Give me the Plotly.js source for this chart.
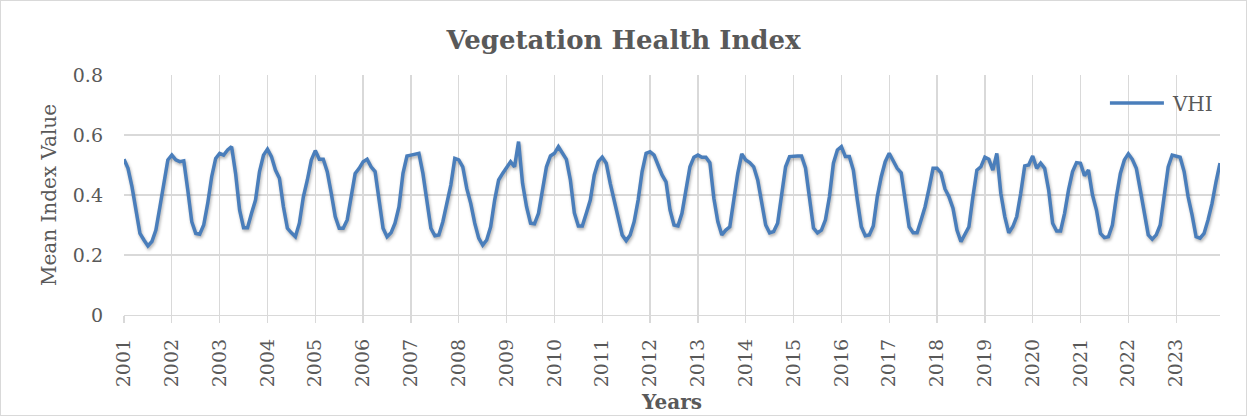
<!DOCTYPE html>
<html>
<head>
<meta charset="utf-8">
<script src="https://cdn.plot.ly/plotly-3.0.1.min.js"></script>
<style>
html,body{margin:0;padding:0;background:#fff;}
#wrap{position:relative;width:1247px;height:416px;}
#chart{width:1247px;height:416px;}
#frame{position:absolute;left:0;top:0;width:1247px;height:416px;box-sizing:border-box;border:1px solid #d9d9d9;pointer-events:none;}
#chart .scatterlayer .js-line{filter:drop-shadow(1px 2px 1.5px rgba(0,0,0,0.30));}
</style>
</head>
<body>
<div id="wrap"><div id="chart"></div><div id="frame"></div></div>
<script>
const years = ['2001','2002','2003','2004','2005','2006','2007','2008','2009','2010','2011','2012',
               '2013','2014','2015','2016','2017','2018','2019','2020','2021','2022','2023'];

// Monthly mean VHI values (Jan..Dec) per year
const vhi2001 = [0.519,0.489,0.428,0.350,0.272,0.250,0.230,0.245,0.283,0.360,0.444,0.517];
const vhi2002 = [0.533,0.517,0.511,0.514,0.417,0.311,0.272,0.269,0.300,0.372,0.461,0.522];
const vhi2003 = [0.539,0.533,0.550,0.561,0.472,0.350,0.291,0.291,0.339,0.383,0.478,0.533];
const vhi2004 = [0.553,0.528,0.483,0.456,0.361,0.289,0.274,0.261,0.306,0.394,0.450,0.517];
const vhi2005 = [0.548,0.519,0.519,0.478,0.406,0.328,0.289,0.289,0.317,0.394,0.472,0.489];
const vhi2006 = [0.511,0.519,0.494,0.478,0.383,0.289,0.261,0.274,0.306,0.361,0.472,0.530];
const vhi2007 = [0.533,0.535,0.539,0.472,0.372,0.289,0.264,0.267,0.311,0.367,0.433,0.522];
const vhi2008 = [0.517,0.494,0.422,0.372,0.306,0.256,0.233,0.250,0.294,0.383,0.450,0.472];
const vhi2009 = [0.494,0.511,0.494,0.578,0.439,0.361,0.306,0.304,0.339,0.422,0.494,0.530];
const vhi2010 = [0.539,0.561,0.539,0.519,0.450,0.340,0.297,0.297,0.339,0.383,0.467,0.511];
const vhi2011 = [0.526,0.506,0.439,0.383,0.317,0.267,0.248,0.267,0.311,0.383,0.478,0.539];
const vhi2012 = [0.544,0.533,0.500,0.467,0.444,0.350,0.300,0.297,0.339,0.417,0.494,0.526];
const vhi2013 = [0.533,0.526,0.526,0.508,0.389,0.311,0.267,0.283,0.294,0.383,0.472,0.537];
const vhi2014 = [0.517,0.508,0.494,0.450,0.378,0.300,0.274,0.278,0.306,0.394,0.494,0.528];
const vhi2015 = [0.530,0.530,0.530,0.490,0.390,0.290,0.274,0.283,0.317,0.394,0.506,0.550];
const vhi2016 = [0.561,0.528,0.528,0.483,0.383,0.294,0.264,0.267,0.297,0.394,0.461,0.511];
const vhi2017 = [0.539,0.511,0.489,0.474,0.383,0.294,0.274,0.274,0.317,0.361,0.422,0.489];
const vhi2018 = [0.489,0.474,0.420,0.394,0.356,0.283,0.244,0.267,0.294,0.394,0.483,0.494];
const vhi2019 = [0.526,0.519,0.483,0.539,0.406,0.328,0.274,0.294,0.328,0.406,0.497,0.500];
const vhi2020 = [0.530,0.489,0.506,0.489,0.417,0.306,0.280,0.280,0.339,0.417,0.478,0.508];
const vhi2021 = [0.506,0.464,0.483,0.400,0.350,0.272,0.258,0.261,0.300,0.394,0.472,0.517];
const vhi2022 = [0.537,0.519,0.489,0.417,0.344,0.267,0.253,0.267,0.300,0.394,0.494,0.533];
const vhi2023 = [0.530,0.526,0.478,0.394,0.333,0.261,0.256,0.272,0.317,0.372,0.444,0.506];

const vhiByYear = [vhi2001,vhi2002,vhi2003,vhi2004,vhi2005,vhi2006,vhi2007,vhi2008,vhi2009,vhi2010,
                   vhi2011,vhi2012,vhi2013,vhi2014,vhi2015,vhi2016,vhi2017,vhi2018,vhi2019,vhi2020,
                   vhi2021,vhi2022,vhi2023];
const vhi = [].concat(...vhiByYear);
const monthIndex = vhi.map((_, i) => i);
const yearTickVals = years.map((_, k) => k * 12);

const grey = '#595959';
const grid = '#d9d9d9';

const trace = {
  x: monthIndex,
  y: vhi,
  type: 'scatter',
  mode: 'lines',
  name: 'VHI',
  line: {color: '#4a7ebb', width: 3.5},
  hoverinfo: 'y'
};

const layout = {
  width: 1247,
  height: 416,
  margin: {l: 124, r: 27, t: 75, b: 101},
  paper_bgcolor: '#ffffff',
  plot_bgcolor: '#ffffff',
  font: {family: 'DejaVu Serif', color: grey, size: 19},
  title: {
    text: '<b>Vegetation Health Index</b>',
    font: {family: 'DejaVu Serif', size: 26, color: grey},
    x: 0.5, xref: 'container', xanchor: 'center',
    y: 0.905, yref: 'container', yanchor: 'middle'
  },
  showlegend: true,
  legend: {
    x: 0.895, xanchor: 'left',
    y: 0.883, yanchor: 'middle',
    itemwidth: 58,
    bgcolor: 'rgba(0,0,0,0)',
    font: {family: 'DejaVu Serif', size: 20, color: grey}
  },
  xaxis: {
    range: [0, 275],
    tickmode: 'array',
    tickvals: yearTickVals,
    ticktext: years,
    tickangle: -90,
    ticks: 'outside',
    ticklen: 7,
    tickwidth: 1.3,
    tickcolor: grid,
    ticklabelstandoff: 8,
    showgrid: true,
    gridcolor: grid,
    gridwidth: 1.3,
    showline: true,
    linecolor: grid,
    linewidth: 1.3,
    zeroline: false,
    automargin: false,
    tickfont: {family: 'DejaVu Serif', size: 19, color: grey},
    title: {text: '<b>Years</b>', font: {family: 'DejaVu Serif', size: 20, color: grey}, standoff: 8}
  },
  yaxis: {
    range: [0, 0.8],
    tickmode: 'linear',
    tick0: 0,
    dtick: 0.2,
    showgrid: true,
    gridcolor: grid,
    gridwidth: 1.3,
    zeroline: false,
    showline: false,
    ticks: '',
    ticklabelstandoff: 20,
    automargin: false,
    tickfont: {family: 'DejaVu Serif', size: 19, color: grey},
    title: {text: 'Mean Index Value', font: {family: 'DejaVu Serif', size: 20, color: grey}, standoff: 10}
  }
};

Plotly.newPlot('chart', [trace], layout, {displayModeBar: false, staticPlot: true}).then(gd => {
  // lengthen the legend line sample to match the wider item width
  gd.querySelectorAll('.legend .legendlines path').forEach(p => p.setAttribute('d', 'M5,0h' + (layout.legend.itemwidth - 4)));
});
</script>
</body>
</html>
